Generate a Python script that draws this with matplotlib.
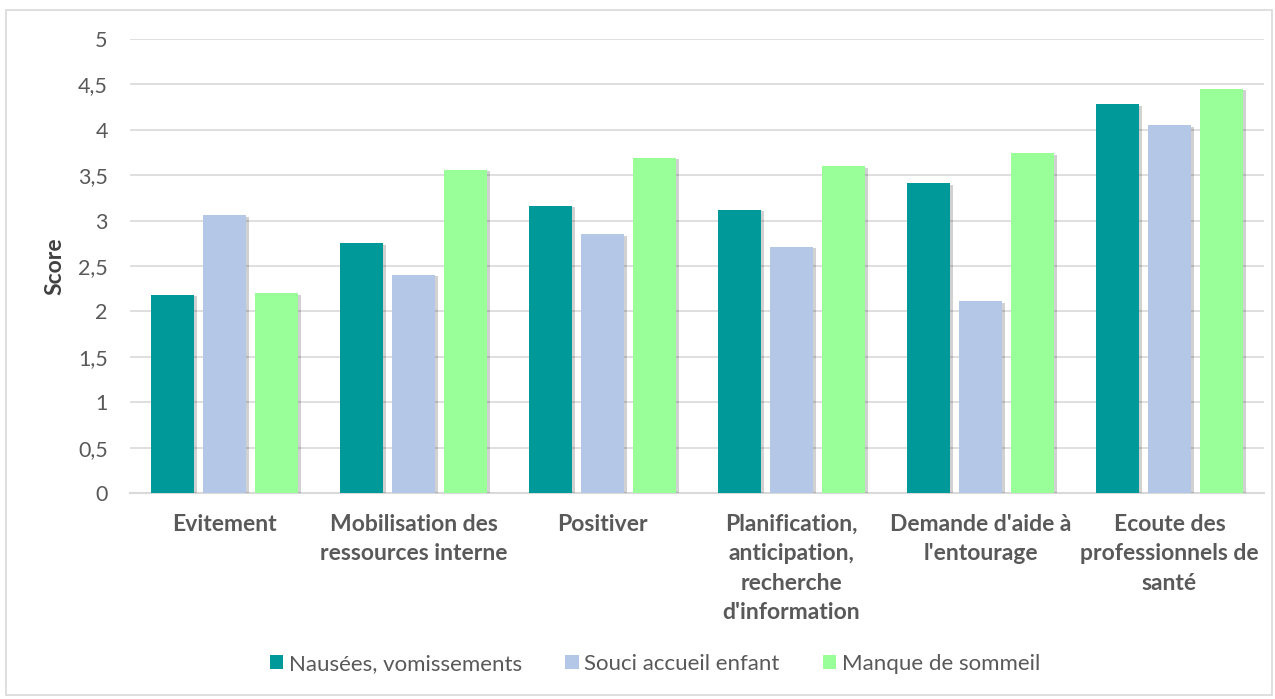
import numpy as np
import matplotlib.pyplot as plt
import matplotlib.patheffects as pe
from matplotlib.patches import Rectangle

categories = [
    "Evitement",
    "Mobilisation des\nressources interne",
    "Positiver",
    "Planification,\nanticipation,\nrecherche\nd'information",
    "Demande d'aide à\nl'entourage",
    "Ecoute des\nprofessionnels de\nsanté",
]
series_names = ["Nausées, vomissements", "Souci accueil enfant", "Manque de sommeil"]
nausees = [2.18, 2.75, 3.16, 3.12, 3.41, 4.28]
souci = [3.06, 2.40, 2.85, 2.71, 2.11, 4.05]
sommeil = [2.20, 3.56, 3.69, 3.60, 3.74, 4.45]
colors = ["#009999", "#B4C7E7", "#99FF99"]
yticks = [0, 0.5, 1, 1.5, 2, 2.5, 3, 3.5, 4, 4.5, 5]
ytick_labels = ["0", "0,5", "1", "1,5", "2", "2,5", "3", "3,5", "4", "4,5", "5"]

plt.rcParams['font.family'] = ['Lato', 'DejaVu Sans']

fig = plt.figure(figsize=(12.75, 6.99), dpi=100)
fig.patches.append(Rectangle((6 / 1275, 4 / 699), 1266 / 1275, 685 / 699,
                             transform=fig.transFigure, fill=False,
                             edgecolor="#D9D9D9", linewidth=1.2))
ax = fig.add_axes([130 / 1275, 1 - 493 / 699, 1134 / 1275, 454 / 699])

x = np.arange(len(categories))
width = 0.228
step = 0.275
all_bars = []
for i, (vals, name) in enumerate(zip([nausees, souci, sommeil], series_names)):
    bars = ax.bar(x + (i - 1) * step, vals, width, color=colors[i], label=name, zorder=3)
    all_bars.append(bars)

ax.set_xlim(-0.5, len(categories) - 0.5)
ax.set_ylim(0, 5)
ax.set_yticks(yticks)
ax.set_yticklabels(ytick_labels, fontsize=15.5, color="#595959")
ax.set_xticks(x)
ax.set_xticklabels(categories, fontsize=16.5, fontweight="bold", color="#595959",
                   linespacing=1.5, va="top")
ax.tick_params(axis="both", length=0)
ax.tick_params(axis="y", pad=16)
ax.tick_params(axis="x", pad=15)
ax.grid(axis="y", color="#D9D9D9", linewidth=1.2, zorder=0)
for s in ["top", "right", "left"]:
    ax.spines[s].set_visible(False)
ax.spines["bottom"].set_color("#D9D9D9")
ax.spines["bottom"].set_linewidth(1.5)
ax.set_ylabel("Score", fontsize=16.5, fontweight="bold", color="#404040", labelpad=9)

fig.legend(loc="center", bbox_to_anchor=(655 / 1275, 1 - 664 / 699), ncol=3,
           frameon=False, fontsize=16, handlelength=0.6, handleheight=0.6,
           handletextpad=0.25, columnspacing=1.95, labelcolor="#595959")

# soft shadow on the bars, applied after the legend so the legend keys stay flat
shadow = [pe.SimplePatchShadow(offset=(2, -1), shadow_rgbFace="#000000", alpha=0.18), pe.Normal()]
for bars in all_bars:
    for b in bars:
        b.set_path_effects(shadow)

fig.savefig("out.png", dpi=100)
